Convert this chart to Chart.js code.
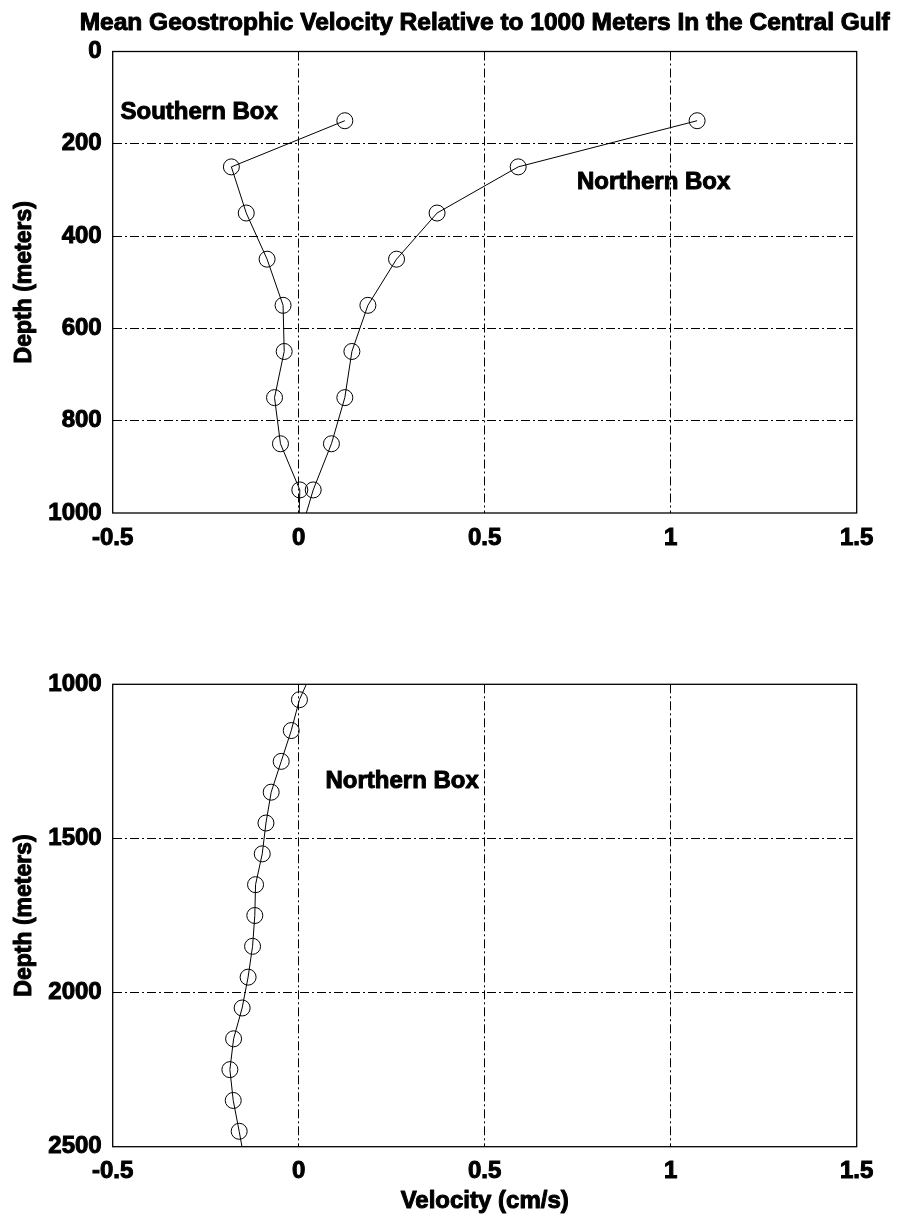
<!DOCTYPE html>
<html>
<head>
<meta charset="utf-8">
<script src="https://cdn.jsdelivr.net/npm/chart.js@4/dist/chart.umd.min.js"></script>
<style>
  html, body { margin: 0; padding: 0; background: #fff; }
  #wrap { position: relative; width: 899px; height: 1222px; background: #fff; }
  .cv { position: absolute; left: 0; }
</style>
</head>
<body>
<div id="wrap">
  <div class="cv" style="top:0;width:899px;height:600px;"><canvas id="c1" width="899" height="600"></canvas></div>
  <div class="cv" style="top:600px;width:899px;height:622px;"><canvas id="c2" width="899" height="622"></canvas></div>
</div>
<script>
// ---------------- data ----------------
const titleText = 'Mean Geostrophic Velocity Relative to 1000 Meters In the Central Gulf';
const xTitle = 'Velocity (cm/s)';
const yTitle = 'Depth (meters)';

// Northern Box (depth in meters, velocity in cm/s)
const depthNorth = [150, 250, 350, 450, 550, 650, 750, 850, 950, 1050, 1150, 1250, 1350, 1450, 1550, 1650, 1750, 1850, 1950, 2050, 2150, 2250, 2350, 2450, 2550];
const velNorth   = [1.071, 0.590, 0.372, 0.263, 0.186, 0.143, 0.124, 0.088, 0.039, 0.002, -0.020, -0.047, -0.074, -0.088, -0.098, -0.116, -0.118, -0.124, -0.136, -0.152, -0.175, -0.185, -0.176, -0.160, -0.145];

// Southern Box
const depthSouth = [150, 250, 350, 450, 550, 650, 750, 850, 950, 1050];
const velSouth   = [0.124, -0.181, -0.141, -0.085, -0.042, -0.039, -0.065, -0.049, 0.003, 0.000];

// tick values
const xTicks = [-0.5, 0, 0.5, 1, 1.5];
const yTicksTop = [0, 200, 400, 600, 800, 1000];
const yTicksBottom = [1000, 1500, 2000, 2500];

// annotation labels
const labelSouth = 'Southern Box';
const labelNorth = 'Northern Box';

// ---------------- helpers ----------------
const FONT = "'Liberation Sans', Arial, Helvetica, sans-serif";
const STROKE = 1;
const pts = (d, v) => d.map((dep, i) => ({ x: v[i], y: dep }));

const lineDs = (data) => ({
  data,
  borderColor: '#000',
  borderWidth: 1,
  tension: 0,
  fill: false,
  pointStyle: 'circle',
  pointRadius: 8,
  pointBorderWidth: 1,
  pointBorderColor: '#000',
  pointBackgroundColor: 'rgba(0,0,0,0)',
  pointHoverRadius: 8,
});

function boldText(ctx, text, x, y) {
  ctx.fillText(text, x, y);
  ctx.strokeText(text, x, y);
}

const frameAndText = {
  id: 'frameAndText',
  afterDraw(chart, args, opts) {
    const { ctx, chartArea: a, scales } = chart;
    ctx.save();
    ctx.strokeStyle = '#000';
    ctx.lineWidth = 1.3;
    ctx.strokeRect(a.left, a.top, a.right - a.left, a.bottom - a.top);
    ctx.fillStyle = '#000';
    ctx.lineWidth = STROKE;
    ctx.lineJoin = 'round';
    ctx.textBaseline = 'middle';
    ctx.textAlign = 'left';
    ctx.font = 'bold 24px ' + FONT;
    (opts.labels || []).forEach(l => {
      boldText(ctx, l.text, scales.x.getPixelForValue(l.x), scales.y.getPixelForValue(l.y));
    });
    ctx.textAlign = 'center';
    if (opts.title) {
      ctx.font = 'bold 24.5px ' + FONT;
      boldText(ctx, opts.title, (a.left + a.right) / 2, opts.titleY);
    }
    if (opts.xTitle) {
      ctx.font = 'bold 24px ' + FONT;
      boldText(ctx, opts.xTitle, (a.left + a.right) / 2, opts.xTitleY);
    }
    if (opts.yTitle) {
      ctx.font = 'bold 23px ' + FONT;
      ctx.translate(opts.yTitleX, (a.top + a.bottom) / 2);
      ctx.rotate(-Math.PI / 2);
      boldText(ctx, opts.yTitle, 0, 0);
    }
    ctx.restore();
  }
};

function gridColor(ctx) {
  const s = ctx.scale;
  const v = ctx.tick && ctx.tick.value;
  if (v === s.min || v === s.max) return 'rgba(0,0,0,0)';
  return '#000';
}

function makeOptions(cfg) {
  const tickFont = { family: FONT, size: 24, weight: 'bold' };
  return {
    responsive: false,
    animation: false,
    events: [],
    layout: { padding: { top: cfg.padTop, right: 42.3, left: 0, bottom: 0 } },
    plugins: {
      legend: { display: false },
      tooltip: { enabled: false },
      title: { display: false },
      frameAndText: {
        labels: cfg.labels, title: cfg.title, titleY: cfg.titleY,
        xTitle: cfg.xTitle, xTitleY: cfg.xTitleY,
        yTitle: yTitle, yTitleX: 24.2,
      },
    },
    scales: {
      x: {
        type: 'linear',
        position: 'bottom',
        min: -0.5, max: 1.5,
        afterBuildTicks: (s) => { s.ticks = xTicks.map(v => ({ value: v })); },
        afterFit: (s) => { s.height = cfg.xHeight; },
        ticks: {
          color: '#000',
          font: tickFont,
          textStrokeColor: '#000',
          textStrokeWidth: STROKE,
          padding: 10.6,
          maxRotation: 0,
          autoSkip: false,
          callback: (v) => String(v),
        },
        grid: { color: gridColor, lineWidth: 1, drawTicks: false },
        border: { display: false, dash: [9, 3, 2, 3] },
        title: { display: false },
      },
      y: {
        type: 'linear',
        position: 'left',
        reverse: true,
        min: cfg.yMin, max: cfg.yMax,
        afterBuildTicks: (s) => { s.ticks = cfg.yTicks.map(v => ({ value: v })); },
        afterFit: (s) => { s.width = 112.7; },
        ticks: {
          color: '#000',
          font: tickFont,
          textStrokeColor: '#000',
          textStrokeWidth: STROKE,
          padding: 11,
          autoSkip: false,
          callback: (v) => String(v),
        },
        grid: { color: gridColor, lineWidth: 1, drawTicks: false },
        border: { display: false, dash: [9, 3, 2, 3] },
        title: { display: false },
      },
    },
  };
}

new Chart(document.getElementById('c1'), {
  type: 'line',
  data: { datasets: [lineDs(pts(depthSouth, velSouth)), lineDs(pts(depthNorth, velNorth))] },
  options: makeOptions({
    padTop: 51.5, xHeight: 87, yMin: 0, yMax: 1000, yTicks: yTicksTop,
    labels: [
      { text: labelSouth, x: -0.479, y: 132 },
      { text: labelNorth, x: 0.748, y: 284 },
    ],
    title: titleText, titleY: 23.3,
  }),
  plugins: [frameAndText],
});

new Chart(document.getElementById('c2'), {
  type: 'line',
  data: { datasets: [lineDs(pts(depthNorth, velNorth))] },
  options: makeOptions({
    padTop: 84.3, xHeight: 75.3, yMin: 1000, yMax: 2500, yTicks: yTicksBottom,
    labels: [{ text: labelNorth, x: 0.072, y: 1314 }],
    xTitle: xTitle, xTitleY: 601,
  }),
  plugins: [frameAndText],
});
</script>
</body>
</html>
